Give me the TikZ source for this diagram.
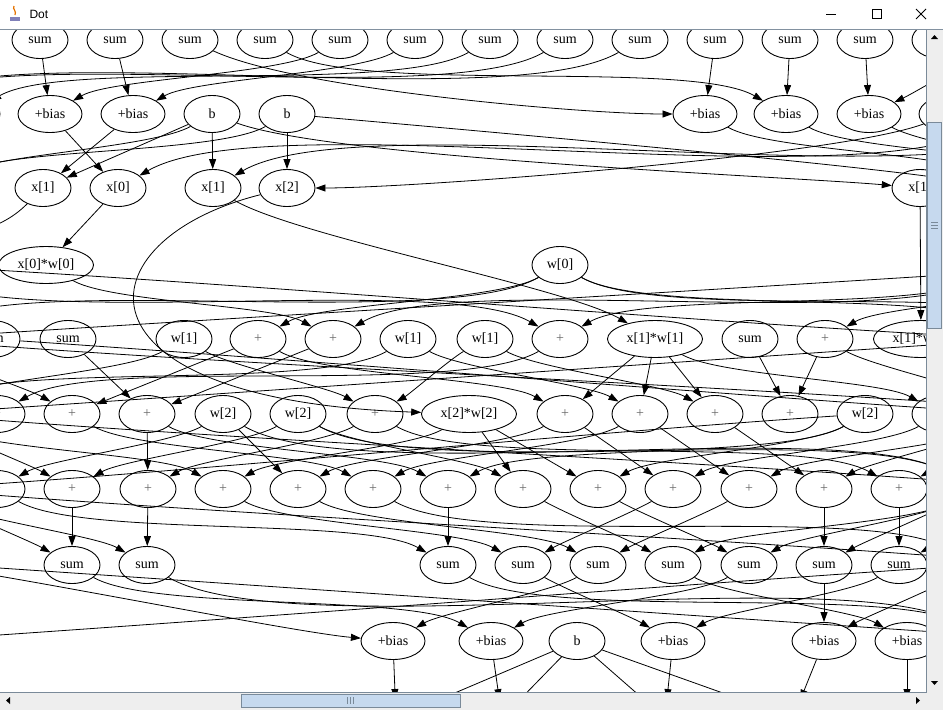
\documentclass[tikz,border=0pt]{standalone}
\usepackage{fontspec}
\setmainfont{Liberation Serif}
\newfontfamily\uifont{Liberation Sans}
\usetikzlibrary{arrows.meta, shapes.geometric}
\definecolor{barline}{RGB}{130,145,160}
\definecolor{track}{RGB}{238,238,238}
\definecolor{thumbfill}{RGB}{198,217,238}
\definecolor{thumbedge}{RGB}{122,138,153}

\begin{document}
\begin{tikzpicture}[x=1pt, y=-1pt,
  op/.style={ellipse, draw, line width=0.9pt, minimum width=56, minimum height=37,
             inner sep=0pt, font=\fontsize{14}{16}\selectfont},
  bias/.style={op, minimum width=64},
  prod/.style={op, minimum width=95},
  plus/.style={op, text=black!60},
  wire/.style={-{Triangle[length=10pt,width=7pt]}, line width=0.8pt},
  lr/.style={out=-30, in=150, looseness=0.45},
  rl/.style={out=210, in=30, looseness=0.45}
]
\useasboundingbox (0,0) rectangle (943,710);
\fill[white] (0,0) rectangle (943,710);

\begin{scope}
\clip (0,30) rectangle (926,692);

\node[op] (a1) at (40,40) {sum};
\node[op] (a2) at (115,40) {sum};
\node[op] (a3) at (190,40) {sum};
\node[op] (a4) at (265,40) {sum};
\node[op] (a5) at (340,40) {sum};
\node[op] (a6) at (415,40) {sum};
\node[op] (a7) at (490,40) {sum};
\node[op] (a8) at (565,40) {sum};
\node[op] (a9) at (640,40) {sum};
\node[op] (a10) at (715,40) {sum};
\node[op] (a11) at (790,40) {sum};
\node[op] (a12) at (865,40) {sum};
\node[op] (a13) at (940,40) {};
\node[op] (ra) at (1020,40) {};

\node[bias] (lb) at (-120,114) {};
\node[bias] (b0) at (-32,114) {};
\node[bias] (b1) at (50,114) {+bias};
\node[bias] (b2) at (133,114) {+bias};
\node[op] (b3) at (212,114) {b};
\node[op] (b4) at (287,114) {b};
\node[bias] (b5) at (705,114) {+bias};
\node[bias] (b6) at (786,114) {+bias};
\node[bias] (b7) at (869,114) {+bias};
\node[bias] (b8) at (951,114) {};
\node[bias] (rb) at (1010,114) {};
\node[bias] (rb2) at (1090,114) {};

\node[op] (lc) at (-60,188) {};
\node[op] (c1) at (43,188) {x[1]};
\node[op] (c2) at (118,188) {x[0]};
\node[op] (c3) at (213,188) {x[1]};
\node[op] (c4) at (287,188) {x[2]};
\node[op] (c5) at (920,188) {x[1]};
\node[op] (rc) at (1000,188) {};
\node[op] (rc2) at (1080,188) {};

\node[op] (ld) at (-100,265) {};
\node[prod] (d1) at (46,265) {x[0]*w[0]};
\node[op] (d2) at (560,265) {w[0]};
\node[op] (rd) at (1010,265) {};
\node[op] (rd2) at (1100,265) {};

\node[op] (le) at (-90,339) {};
\node[op] (e0) at (-8,339) {sum};
\node[op] (e1) at (68,339) {sum};
\node[op] (e2) at (184,339) {w[1]};
\node[plus] (e3) at (258,339) {+};
\node[plus] (e4) at (333,339) {+};
\node[op] (e5) at (408,339) {w[1]};
\node[op] (e6) at (485,339) {w[1]};
\node[plus] (e7) at (560,339) {+};
\node[prod] (e8) at (655,339) {x[1]*w[1]};
\node[op] (e9) at (750,339) {sum};
\node[plus] (e10) at (825,339) {+};
\node[prod] (e11) at (921,339) {x[1]*w[1]};
\node[op] (re) at (1020,339) {};
\node[op] (re2) at (1100,339) {};

\node[op] (lf) at (-80,414) {};
\node[plus] (f0) at (-3,414) {+};
\node[plus] (f1) at (72,414) {+};
\node[plus] (f2) at (147,414) {+};
\node[op] (f3) at (223,414) {w[2]};
\node[op] (f4) at (298,414) {w[2]};
\node[plus] (f5) at (375,414) {+};
\node[prod] (f6) at (469,414) {x[2]*w[2]};
\node[plus] (f7) at (565,414) {+};
\node[plus] (f8) at (640,414) {+};
\node[plus] (f9) at (715,414) {+};
\node[plus] (f10) at (790,414) {+};
\node[op] (f11) at (865,414) {w[2]};
\node[plus] (f12) at (940,414) {};
\node[op] (rf) at (1015,414) {};
\node[op] (rf2) at (1095,414) {};

\node[op] (lg) at (-80,489) {};
\node[plus] (g0) at (-3,489) {+};
\node[plus] (g1) at (72,489) {+};
\node[plus] (g2) at (148,489) {+};
\node[plus] (g3) at (223,489) {+};
\node[plus] (g4) at (298,489) {+};
\node[plus] (g5) at (373,489) {+};
\node[plus] (g6) at (448,489) {+};
\node[plus] (g7) at (523,489) {+};
\node[plus] (g8) at (598,489) {+};
\node[plus] (g9) at (673,489) {+};
\node[plus] (g10) at (749,489) {+};
\node[plus] (g11) at (824,489) {+};
\node[plus] (g12) at (899,489) {+};
\node[op] (rg) at (975,489) {};
\node[op] (rg2) at (1050,489) {};

\node[op] (lh) at (-120,560) {};
\node[op] (h1) at (72,565) {sum};
\node[op] (h2) at (147,565) {sum};
\node[op] (h3) at (448,565) {sum};
\node[op] (h4) at (523,565) {sum};
\node[op] (h5) at (598,565) {sum};
\node[op] (h6) at (673,565) {sum};
\node[op] (h7) at (749,565) {sum};
\node[op] (h8) at (824,565) {sum};
\node[op] (h9) at (899,565) {sum};
\node[op] (rh) at (975,565) {};
\node[op] (rh2) at (1050,565) {};

\node[op] (li) at (-90,641) {};
\node[bias] (i1) at (393,641) {+bias};
\node[bias] (i2) at (491,641) {+bias};
\node[op] (i3) at (577,641) {b};
\node[bias] (i4) at (673,641) {+bias};
\node[bias] (i5) at (824,641) {+bias};
\node[bias] (i6) at (907,641) {+bias};
\node[op] (ri) at (990,641) {};
\node[op] (ri2) at (1070,641) {};

\node[op] (k1) at (396,718) {};
\node[op] (k2) at (502,718) {};
\node[op] (k3) at (665,718) {};
\node[op] (k4) at (793,718) {};
\node[op] (k5) at (907,718) {};

\draw[wire] (a1) -- (b1);
\draw[wire] (a2) -- (b2);
\draw[wire] (a3) to[out=-25, in=180, looseness=0.5] (b5);
\draw[wire] (a4) to[lr] (b6);
\draw[wire] (a5) to[rl] (b1);
\draw[wire] (a6) to[rl] (b2);
\draw[wire] (a7) to[rl] (b0);
\draw[wire] (a8) to[rl] (lb);
\draw[wire] (a9) to[rl] (lb);
\draw[wire] (a10) -- (b5);
\draw[wire] (a11) -- (b6);
\draw[wire] (a12) -- (b7);
\draw[wire] (a13) -- (b8);
\draw[wire] (ra) to[out=200, in=25, looseness=0.5] (b7);

\draw[wire] (b1) -- (c2);
\draw[wire] (b2) -- (c1);
\draw[wire] (b3) -- (c1);
\draw[wire] (b3) -- (c3);
\draw[wire] (b4) -- (c4);
\draw[wire] (b3) to[out=-20, in=175, looseness=0.4] (c5);
\draw[wire] (b4) to[out=-5, in=170, looseness=0.4] (rc);
\draw[wire] (b3) to[rl] (lc);
\draw[wire] (b4) to[rl] (lc);
\draw[wire] (rb) to[rl] (c2);
\draw[wire] (rb2) to[rl] (c3);
\draw[wire] (b8) to[out=200, in=0, looseness=0.4] (c4);
\draw[wire] (b5) to[lr] (rc);
\draw[wire] (b6) to[lr] (rc2);
\draw[wire] (b7) to[lr] (rc2);

\draw[wire] (c2) -- (d1);
\draw[wire] (c1) to[out=225, in=30] (ld);
\draw[wire] (c3) to[lr] (e8);
\draw[wire] (c4) .. controls (80,240) and (60,400) .. (f6);
\draw[wire] (c5) -- (e11);

\draw[wire] (d1) to[lr] (e4);
\draw[wire] (d2) to[rl] (e3);
\draw[wire] (d2) to[rl] (le);
\draw[wire] (d2) to[lr] (re);
\draw[wire] (d2) to[lr] (re2);
\draw[wire] (rd) to[rl] (e4);
\draw[wire] (ld) to[lr] (e7);
\draw[wire] (rd) to[rl] (e7);
\draw[wire] (rd2) to[rl] (e10);
\draw[wire] (ld) .. controls +(300,15) and +(-300,-15) .. (re);
\draw[wire] (rd2) .. controls +(-300,20) and +(300,-20) .. (le);

\draw[wire] (e1) -- (f2);
\draw[wire] (e3) -- (f1);
\draw[wire] (e4) -- (f2);
\draw[wire] (e2) to[lr] (f5);
\draw[wire] (e6) to[rl] (f5);
\draw[wire] (e3) to[lr] (f7);
\draw[wire] (e8) -- (f7);
\draw[wire] (e8) -- (f8);
\draw[wire] (e8) -- (f9);
\draw[wire] (e5) to[lr] (f8);
\draw[wire] (e6) to[lr] (f9);
\draw[wire] (e9) -- (f10);
\draw[wire] (e10) -- (f10);
\draw[wire] (e8) to[lr] (f12);
\draw[wire] (e7) to[rl] (f0);
\draw[wire] (le) to[lr] (f1);
\draw[wire] (e2) to[rl] (lf);
\draw[wire] (e5) to[rl] (lf);
\draw[wire] (e0) .. controls +(300,20) and +(-300,-20) .. (rf);
\draw[wire] (e10) to[lr] (rf);
\draw[wire] (re) .. controls +(-300,20) and +(300,-20) .. (lf);
\draw[wire] (le) .. controls +(300,25) and +(-300,-25) .. (rf2);

\draw[wire] (f2) -- (g2);
\draw[wire] (f3) -- (g4);
\draw[wire] (f6) -- (g7);
\draw[wire] (f6) -- (g8);
\draw[wire] (f7) -- (g9);
\draw[wire] (f8) -- (g10);
\draw[wire] (f9) -- (g11);
\draw[wire] (lf) to[lr] (g0);
\draw[wire] (f3) to[rl] (g0);
\draw[wire] (lf) to[lr] (g1);
\draw[wire] (f4) to[rl] (g1);
\draw[wire] (f5) to[rl] (g2);
\draw[wire] (lf) to[lr] (g3);
\draw[wire] (f6) to[rl] (g3);
\draw[wire] (f7) to[rl] (g4);
\draw[wire] (f1) to[lr] (g5);
\draw[wire] (f8) to[rl] (g5);
\draw[wire] (f2) to[lr] (g6);
\draw[wire] (f11) to[rl] (g6);
\draw[wire] (f4) to[lr] (g7);
\draw[wire] (f11) to[rl] (g8);
\draw[wire] (f12) to[rl] (g9);
\draw[wire] (rf) to[rl] (g10);
\draw[wire] (rf) to[rl] (g11);
\draw[wire] (f5) to[lr] (g12);
\draw[wire] (rf2) to[rl] (g12);
\draw[wire] (f3) to[lr] (rg);
\draw[wire] (f4) to[lr] (rg);
\draw[wire] (f11) .. controls +(-300,20) and +(300,-20) .. (lg);
\draw[wire] (lf) .. controls +(300,25) and +(-300,-25) .. (rg2);

\draw[wire] (g1) -- (h1);
\draw[wire] (g2) -- (h2);
\draw[wire] (g6) -- (h3);
\draw[wire] (g11) -- (h8);
\draw[wire] (g12) -- (h9);
\draw[wire] (lg) to[lr] (h1);
\draw[wire] (lg) to[lr] (h2);
\draw[wire] (g0) to[lr] (h3);
\draw[wire] (g3) to[lr] (h4);
\draw[wire] (g9) to[rl] (h4);
\draw[wire] (g4) to[lr] (h5);
\draw[wire] (g10) to[rl] (h5);
\draw[wire] (g7) to[lr] (h6);
\draw[wire] (rg) to[rl] (h6);
\draw[wire] (g8) to[lr] (h7);
\draw[wire] (rg) to[rl] (h7);
\draw[wire] (rg) to[rl] (h8);
\draw[wire] (rg2) to[rl] (h9);
\draw[wire] (g5) to[lr] (rh);
\draw[wire] (lg) .. controls +(300,25) and +(-300,-25) .. (rh2);

\draw[wire] (h8) -- (i5);
\draw[wire] (lh) to[out=-5, in=175, looseness=0.4] (i1);
\draw[wire] (h5) to[rl] (i1);
\draw[wire] (h1) to[lr] (i2);
\draw[wire] (h7) to[rl] (i2);
\draw[wire] (h4) to[lr] (i4);
\draw[wire] (h9) to[rl] (i4);
\draw[wire] (rh) to[rl] (i5);
\draw[wire] (h6) to[lr] (i6);
\draw[wire] (rh2) to[rl] (i6);
\draw[wire] (h2) to[lr] (ri);
\draw[wire] (h3) to[lr] (ri);
\draw[wire] (lh) .. controls +(300,20) and +(-300,-20) .. (ri2);
\draw[wire] (rh) .. controls +(-300,20) and +(300,-20) .. (li);

\draw[wire] (i1) -- (k1);
\draw[wire] (i2) -- (k2);
\draw[wire] (i3) -- (k1);
\draw[wire] (i3) -- (k2);
\draw[wire] (i3) -- (k3);
\draw[wire] (i3) -- (k4);
\draw[wire] (i4) -- (k3);
\draw[wire] (i5) -- (k4);
\draw[wire] (i6) -- (k5);
\end{scope}

\fill[white] (0,0) rectangle (943,29);
\draw[barline] (0,29.5) -- (943,29.5);
\fill[blue!45!black!50] (10,17) rectangle (20,21);
\draw[orange!90!black, line width=1.2pt] (14,6) .. controls (12,9) and (17,11) .. (15,15);
\node[anchor=west, font=\uifont\fontsize{12}{14}\selectfont] (title) at (26,14) {Dot};
\draw[line width=0.8pt] (826,14) -- (836,14);
\draw[line width=0.8pt] (872,9) rectangle (881,18);
\draw[line width=0.8pt] (916,9) -- (926,19) (916,19) -- (926,9);

\fill[track] (926,30) rectangle (943,710);
\fill[track] (0,692) rectangle (943,710);
\draw[thumbedge] (926,30) -- (926,692) -- (0,692);
\draw[thumbedge, fill=thumbfill] (927.5,122) rectangle (941.5,328);
\draw[thumbedge] (931,222) -- (938,222);
\draw[thumbedge] (931,225) -- (938,225);
\draw[thumbedge] (931,228) -- (938,228);
\fill (931,39) -- (938,39) -- (934.5,35) -- cycle;
\fill (931,681) -- (938,681) -- (934.5,685) -- cycle;
\draw[thumbedge, fill=thumbfill] (241,694) rectangle (460,707);
\draw[thumbedge] (347,697) -- (347,704);
\draw[thumbedge] (350,697) -- (350,704);
\draw[thumbedge] (353,697) -- (353,704);
\fill (10,697) -- (10,704) -- (6,700.5) -- cycle;
\fill (916,697) -- (916,704) -- (920,700.5) -- cycle;
\end{tikzpicture}
\end{document}
